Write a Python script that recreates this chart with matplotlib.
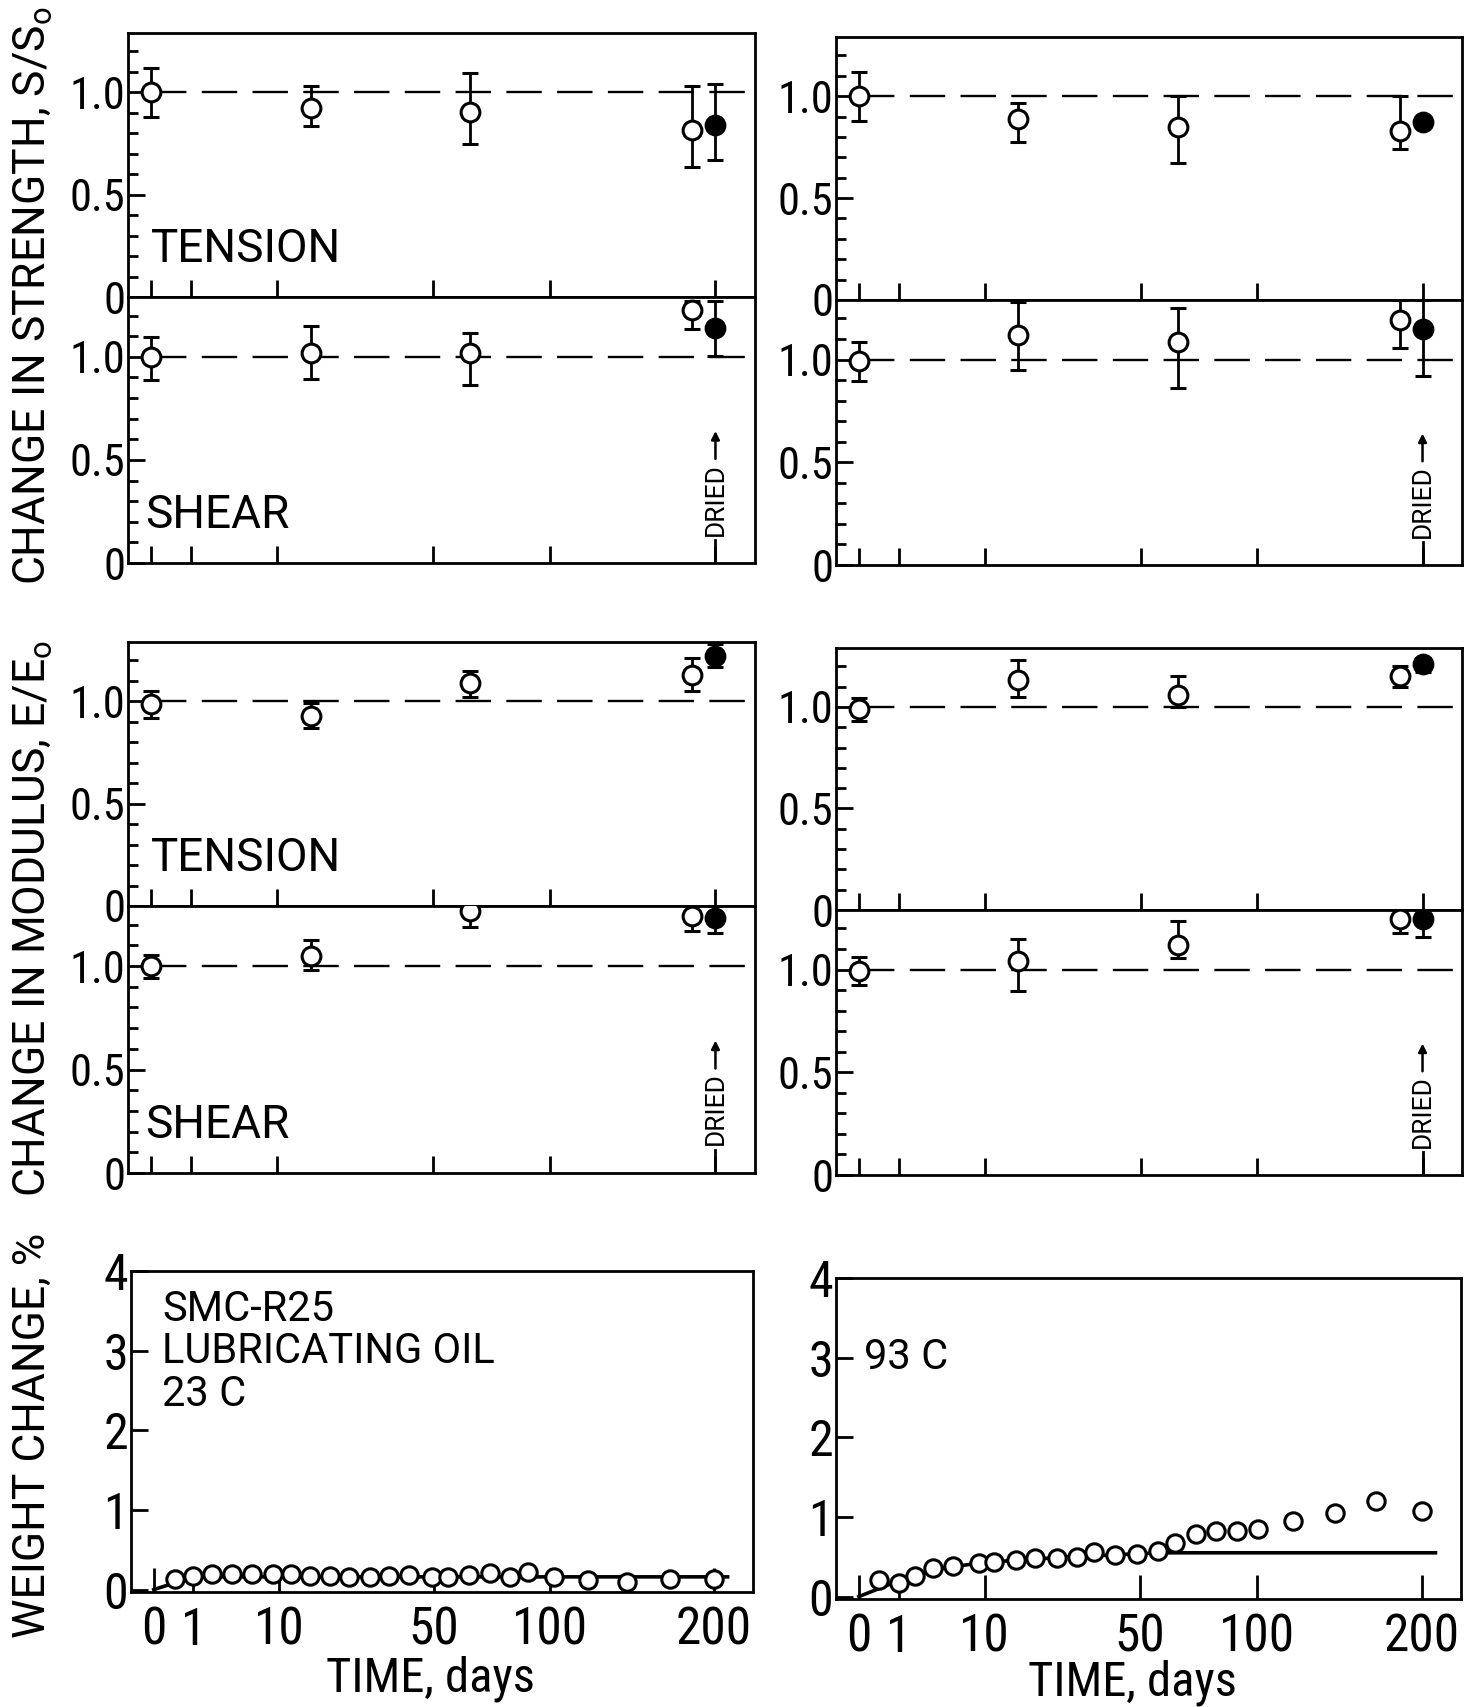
import numpy as np
import matplotlib
matplotlib.use('Agg')
import matplotlib.pyplot as plt
from matplotlib import font_manager as fm
from matplotlib.ticker import NullLocator

avail = {f.name for f in fm.fontManager.ttflist}


def pick(cands):
    for c in cands:
        if c in avail:
            return c
    return 'DejaVu Sans'


F_REG = pick(['Roboto', 'Arimo', 'Liberation Sans', 'DejaVu Sans'])
F_NAR = pick(['Roboto Condensed', 'Archivo Narrow', 'PT Sans Narrow',
              'Liberation Sans Narrow', 'Roboto', 'DejaVu Sans'])
plt.rcParams['font.family'] = [F_REG, 'DejaVu Sans']
plt.rcParams['mathtext.default'] = 'regular'

# ---------------- data ----------------
tick_days = [0, 1, 10, 50, 100, 200]
tick_labels = ['0', '1', '10', '50', '100', '200']
t_open = [0, 16, 64, 184]
t_dried = 200

# 23 C column
L_str_ten = [1.00, 0.924, 0.906, 0.818]
L_str_ten_lo = [0.88, 0.835, 0.75, 0.633]
L_str_ten_hi = [1.12, 1.03, 1.093, 1.033]
L_str_ten_d = [0.84, 0.67, 1.04]          # value, low, high
L_str_shr = [1.00, 1.019, 1.019, 1.229]
L_str_shr_lo = [0.887, 0.891, 0.865, 1.137]
L_str_shr_hi = [1.094, 1.148, 1.114, 1.27]
L_str_shr_d = [1.14, 1.005, 1.27]
L_mod_ten = [0.985, 0.93, 1.09, 1.13]
L_mod_ten_lo = [0.92, 0.87, 1.02, 1.05]
L_mod_ten_hi = [1.05, 0.99, 1.15, 1.21]
L_mod_ten_d = [1.22, 1.17, 1.28]
L_mod_shr = [1.00, 1.05, 1.265, 1.24]
L_mod_shr_lo = [0.94, 0.98, 1.19, 1.17]
L_mod_shr_hi = [1.055, 1.125, 1.30, 1.29]
L_mod_shr_d = [1.23, 1.16, 1.29]

# 93 C column
R_str_ten = [1.00, 0.89, 0.847, 0.83]
R_str_ten_lo = [0.88, 0.776, 0.67, 0.74]
R_str_ten_hi = [1.12, 0.966, 1.0, 1.0]
R_str_ten_d = [0.875, 0.855, 0.895]
R_str_shr = [0.995, 1.12, 1.085, 1.195]
R_str_shr_lo = [0.895, 0.95, 0.86, 1.057]
R_str_shr_hi = [1.085, 1.28, 1.25, 1.29]
R_str_shr_d = [1.15, 0.92, 1.29]
R_mod_ten = [0.99, 1.13, 1.06, 1.15]
R_mod_ten_lo = [0.93, 1.05, 1.0, 1.1]
R_mod_ten_hi = [1.045, 1.23, 1.15, 1.2]
R_mod_ten_d = [1.21, 1.17, 1.24]
R_mod_shr = [0.995, 1.04, 1.12, 1.245]
R_mod_shr_lo = [0.925, 0.895, 1.055, 1.18]
R_mod_shr_hi = [1.06, 1.15, 1.235, 1.29]
R_mod_shr_d = [1.245, 1.16, 1.29]

# weight change
L_w_t = [0.3, 1, 2.2, 3.9, 6.1, 9, 12, 15.6, 19.8, 24.4, 29.8, 35.4, 41.4, 49.3,
         55.3, 63.4, 72.2, 81, 89.3, 102, 120, 143, 170, 200]
L_w = [0.13, 0.175, 0.19, 0.19, 0.19, 0.19, 0.19, 0.175, 0.175, 0.155, 0.16, 0.165,
       0.18, 0.155, 0.16, 0.18, 0.21, 0.155, 0.215, 0.155, 0.12, 0.09, 0.13, 0.13]
L_fit_t = [0, 1, 210]
L_fit = [0, 0.16, 0.16]

R_w_t = [0.25, 1, 2, 3.5, 5.6, 9.1, 11.6, 15.5, 19.7, 24.7, 30, 35, 41.3, 48.8,
         56.4, 63, 71.7, 80.6, 90.1, 100.5, 119, 143, 169, 200]
R_w = [0.21, 0.175, 0.26, 0.36, 0.39, 0.42, 0.44, 0.46, 0.48, 0.48, 0.50, 0.555,
       0.52, 0.54, 0.57, 0.67, 0.79, 0.82, 0.82, 0.85, 0.945, 1.055, 1.195, 1.075]
R_fit_t = [0, 1, 4, 10, 25, 50, 60, 210]
R_fit = [0, 0.2, 0.35, 0.43, 0.49, 0.54, 0.55, 0.55]

# ---------------- layout ----------------
W, H = 1483, 1707
fig = plt.figure(figsize=(W / 100, H / 100), dpi=100)
fig.patch.set_facecolor('white')


def rect(l, r, t, b):
    return [l / W, 1 - b / H, (r - l) / W, (b - t) / H]


def fwd(x):
    x = np.asarray(x, dtype=float)
    return np.sign(x) * np.sqrt(np.abs(x))


def inv(y):
    y = np.asarray(y, dtype=float)
    return np.sign(y) * y ** 2


XMIN, XMAX = -0.33, 229
LW = 2.0
TFS = 32
MS = 13.5


def base(ax):
    ax.set_xscale('function', functions=(fwd, inv))
    ax.set_xlim(XMIN, XMAX)
    for s in ax.spines.values():
        s.set_linewidth(LW)
    ax.set_xticks(tick_days)
    ax.xaxis.set_minor_locator(NullLocator())
    ax.tick_params(top=False, right=False)


def sub_axes(r):
    ax = fig.add_axes(r)
    base(ax)
    ax.set_ylim(0, 1.29)
    ax.set_xticklabels([])
    ax.set_yticks([0, 0.5, 1.0])
    ax.set_yticklabels(['0', '0.5', '1.0'], family=F_NAR)
    ax.set_yticks(np.arange(1, 13) / 10, minor=True)
    ax.tick_params(axis='y', which='major', direction='in', length=12, width=LW,
                   labelsize=TFS, pad=2)
    ax.tick_params(axis='y', which='minor', direction='in', length=7.5, width=LW)
    ax.tick_params(axis='x', which='major', direction='in', length=12, width=LW)
    ax.plot([0, XMAX], [1, 1], color='k', lw=1.7, ls=(0, (15, 6.5)), zorder=1)
    return ax


def pts(ax, vals, lo, hi, d):
    vals = np.array(vals); lo = np.array(lo); hi = np.array(hi)
    ax.errorbar(t_open, vals, yerr=[vals - lo, hi - vals], fmt='o', ms=MS,
                mfc='white', mec='k', mew=2.2, ecolor='k', elinewidth=2,
                capsize=6, capthick=2, zorder=3)
    ax.errorbar([t_dried], [d[0]], yerr=[[d[0] - d[1]], [d[2] - d[0]]], fmt='o',
                ms=MS, mfc='k', mec='k', mew=2.2, ecolor='k', elinewidth=2,
                capsize=6, capthick=2, zorder=3)


def dried(ax):
    ax.text(t_dried, 0.31, 'DRIED', rotation=90, ha='center', va='center',
            fontsize=19)
    ax.annotate('', xy=(t_dried, 0.64), xytext=(t_dried, 0.505),
                arrowprops=dict(arrowstyle='-|>', color='k', lw=1.8,
                                mutation_scale=12, shrinkA=0, shrinkB=0))
    ax.plot([t_dried, t_dried], [0.0, 0.11], color='k', lw=LW)


panels = [
    (rect(128, 755, 33, 297), rect(128, 755, 297, 563),
     (L_str_ten, L_str_ten_lo, L_str_ten_hi, L_str_ten_d),
     (L_str_shr, L_str_shr_lo, L_str_shr_hi, L_str_shr_d), True),
    (rect(836, 1462, 37, 300), rect(836, 1462, 300, 565),
     (R_str_ten, R_str_ten_lo, R_str_ten_hi, R_str_ten_d),
     (R_str_shr, R_str_shr_lo, R_str_shr_hi, R_str_shr_d), False),
    (rect(128, 755, 642, 906), rect(128, 755, 906, 1173),
     (L_mod_ten, L_mod_ten_lo, L_mod_ten_hi, L_mod_ten_d),
     (L_mod_shr, L_mod_shr_lo, L_mod_shr_hi, L_mod_shr_d), True),
    (rect(836, 1462, 648, 910), rect(836, 1462, 910, 1175),
     (R_mod_ten, R_mod_ten_lo, R_mod_ten_hi, R_mod_ten_d),
     (R_mod_shr, R_mod_shr_lo, R_mod_shr_hi, R_mod_shr_d), False),
]

for rt, rb, ten, shr, lab in panels:
    at = sub_axes(rt)
    ab = sub_axes(rb)
    pts(at, *ten)
    pts(ab, *shr)
    dried(ab)
    if lab:
        at.text(0, 0.17, 'TENSION', fontsize=33, ha='left', va='baseline')
        ab.text(-0.02, 0.17, 'SHEAR', fontsize=33, ha='left', va='baseline')


def weight_axes(r, t, w, ft, f):
    ax = fig.add_axes(r)
    base(ax)
    ax.set_ylim(-0.03, 4)
    ax.set_yticks([0, 1, 2, 3, 4])
    ax.set_yticklabels(['0', '1', '2', '3', '4'], family=F_NAR)
    ax.set_xticklabels(tick_labels, family=F_NAR)
    ax.tick_params(axis='y', direction='in', length=12, width=LW,
                   labelsize=36, pad=2)
    ax.tick_params(axis='x', direction='in', length=17, width=LW,
                   labelsize=37, pad=10)
    ax.plot(ft, f, color='k', lw=2.6, zorder=2)
    ax.plot(t, w, 'o', ms=12.5, mfc='white', mec='k', mew=2.2, zorder=3)
    return ax


aw1 = weight_axes(rect(131, 753, 1271, 1592), L_w_t, L_w, L_fit_t, L_fit)
aw1.text(0.05, 0.945, 'SMC-R25\nLUBRICATING OIL\n23 C', transform=aw1.transAxes,
         fontsize=30, ha='left', va='top', linespacing=1.05)
aw2 = weight_axes(rect(836, 1461, 1278, 1599), R_w_t, R_w, R_fit_t, R_fit)
aw2.text(0.045, 3.0, '93 C', transform=aw2.get_yaxis_transform(),
         fontsize=30, ha='left', va='center')

fig.text(430 / W, 1 - 1692 / H, 'TIME, days', ha='center', va='baseline',
         fontsize=35, family=F_NAR)
fig.text(1132 / W, 1 - 1696 / H, 'TIME, days', ha='center', va='baseline',
         fontsize=35, family=F_NAR)

fig.text(33 / W, 1 - 296 / H, 'CHANGE IN STRENGTH, S/S$_{o}$', rotation=90,
         ha='center', va='center', fontsize=32)
fig.text(33 / W, 1 - 918 / H, 'CHANGE IN MODULUS, E/E$_{o}$', rotation=90,
         ha='center', va='center', fontsize=32)
fig.text(33 / W, 1 - 1435 / H, 'WEIGHT CHANGE, %', rotation=90,
         ha='center', va='center', fontsize=32)

fig.savefig('out.png', dpi=100, facecolor='white')
